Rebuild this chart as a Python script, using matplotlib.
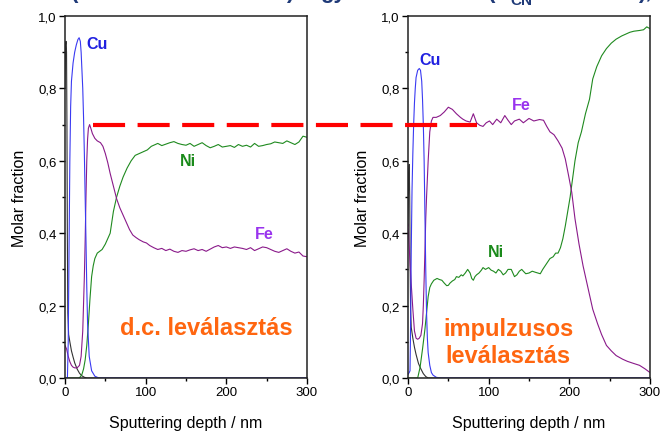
import numpy as np
import matplotlib
matplotlib.use("Agg")
import matplotlib.pyplot as plt
from matplotlib.ticker import MultipleLocator, FuncFormatter
from matplotlib.lines import Line2D

plt.rcParams["font.family"] = ["Liberation Sans", "DejaVu Sans"]

# d.c. deposition (left panel): (depth nm, molar fraction)
dc_black = [(0, 0.80), (0.7, 0.92), (1.3, 0.93), (1.9, 0.90), (2.4, 0.70), (2.9, 0.40),
            (3.5, 0.18), (4.5, 0.12), (6, 0.10), (8, 0.075), (10, 0.058), (12, 0.042),
            (15, 0.025), (18, 0.013), (21, 0.006), (24, 0.002), (27, 0), (300, 0)]
dc_cu = [(0, 0), (3, 0), (4, 0.1), (5, 0.35), (6, 0.6), (7, 0.75), (8, 0.82), (10, 0.87),
         (12, 0.9), (14, 0.92), (16, 0.935), (17.5, 0.94), (19, 0.93), (20, 0.9), (21, 0.85),
         (22, 0.8), (23, 0.72), (24, 0.62), (25, 0.5), (26, 0.38), (27, 0.25), (28, 0.15),
         (30, 0.06), (33, 0.02), (37, 0.005), (42, 0), (300, 0)]
dc_fe = [(0, 0.09), (2, 0.08), (4, 0.06), (6, 0.045), (8, 0.035), (10, 0.03), (12, 0.028),
         (15, 0.028), (18, 0.035), (20, 0.06), (22, 0.13), (24, 0.28), (25, 0.38), (26, 0.5),
         (27, 0.6), (28, 0.66), (29, 0.69), (30.5, 0.70), (32, 0.69), (34, 0.675), (37, 0.662),
         (40, 0.655), (44, 0.65), (47, 0.64), (50, 0.62), (53, 0.595), (56, 0.565), (60, 0.53),
         (64, 0.495), (68, 0.47), (72, 0.45), (76, 0.43), (80, 0.41), (84, 0.395), (88, 0.388),
         (92, 0.382), (97, 0.376), (101, 0.373), (105, 0.366), (110, 0.36), (115, 0.355),
         (120, 0.358), (125, 0.352), (130, 0.356), (135, 0.35), (140, 0.347), (145, 0.352),
         (150, 0.35), (155, 0.354), (160, 0.357), (165, 0.352), (170, 0.355), (175, 0.35),
         (180, 0.356), (185, 0.362), (190, 0.366), (195, 0.36), (200, 0.362), (205, 0.358),
         (210, 0.362), (215, 0.36), (220, 0.358), (225, 0.355), (230, 0.36), (235, 0.352),
         (240, 0.357), (245, 0.362), (250, 0.36), (255, 0.355), (260, 0.35), (265, 0.347),
         (270, 0.352), (275, 0.357), (280, 0.35), (285, 0.345), (290, 0.348), (295, 0.337),
         (300, 0.335)]
dc_ni = [(0, 0), (17, 0), (19, 0.003), (21, 0.01), (23, 0.025), (25, 0.05), (27, 0.09),
         (29, 0.15), (31, 0.22), (33, 0.28), (35, 0.31), (37, 0.33), (40, 0.345), (43, 0.35),
         (46, 0.355), (50, 0.37), (53, 0.385), (56, 0.40), (60, 0.46), (64, 0.5), (68, 0.53),
         (72, 0.555), (77, 0.58), (82, 0.6), (87, 0.615), (92, 0.62), (97, 0.625), (102, 0.63),
         (107, 0.64), (112, 0.645), (115, 0.648), (120, 0.642), (125, 0.646), (130, 0.65),
         (135, 0.653), (140, 0.648), (145, 0.645), (150, 0.643), (155, 0.648), (160, 0.64),
         (165, 0.645), (170, 0.65), (175, 0.642), (180, 0.636), (185, 0.64), (190, 0.645),
         (195, 0.638), (200, 0.64), (205, 0.642), (210, 0.637), (215, 0.645), (220, 0.64),
         (225, 0.643), (230, 0.638), (235, 0.648), (240, 0.64), (245, 0.642), (250, 0.645),
         (255, 0.647), (260, 0.652), (265, 0.65), (270, 0.648), (275, 0.655), (280, 0.65),
         (285, 0.645), (290, 0.652), (295, 0.668), (300, 0.665)]

# pulse deposition (right panel)
imp_black = [(0, 0.42), (0.8, 0.56), (1.5, 0.59), (2.1, 0.5), (2.6, 0.32), (3.2, 0.19),
             (4, 0.14), (6, 0.11), (8, 0.085), (10, 0.065), (13, 0.04), (16, 0.025),
             (19, 0.012), (22, 0.004), (25, 0), (300, 0)]
imp_cu = [(0, 0.01), (1.5, 0.015), (2.5, 0.02), (3, 0.1), (4, 0.35), (5, 0.52), (6, 0.62),
          (7, 0.7), (8, 0.76), (9, 0.8), (10, 0.83), (12, 0.85), (14, 0.855), (15.5, 0.85),
          (17, 0.82), (18, 0.77), (19, 0.7), (20, 0.6), (21, 0.45), (22, 0.3), (23, 0.18),
          (24, 0.11), (25, 0.07), (27, 0.035), (29, 0.015), (31, 0.008), (35, 0.002),
          (40, 0), (300, 0)]
imp_fe = [(0, 0.425), (2, 0.34), (4, 0.26), (6, 0.19), (8, 0.13), (10, 0.11), (12, 0.107),
          (14, 0.11), (16, 0.118), (18, 0.15), (19, 0.2), (20, 0.27), (21, 0.35), (22, 0.44),
          (23, 0.5), (25, 0.6), (27, 0.68), (29, 0.71), (31, 0.72), (35, 0.72), (40, 0.725),
          (45, 0.735), (50, 0.748), (55, 0.742), (60, 0.73), (65, 0.72), (68, 0.715),
          (72, 0.71), (77, 0.707), (81, 0.73), (85, 0.705), (89, 0.698), (93, 0.695),
          (97, 0.705), (101, 0.71), (105, 0.7), (110, 0.715), (115, 0.705), (120, 0.725),
          (124, 0.712), (128, 0.70), (132, 0.71), (138, 0.715), (143, 0.705), (150, 0.717),
          (156, 0.71), (163, 0.714), (168, 0.712), (172, 0.695), (176, 0.68), (181, 0.672),
          (186, 0.655), (191, 0.635), (195, 0.605), (199, 0.56), (203, 0.513), (207, 0.44),
          (212, 0.37), (217, 0.31), (223, 0.25), (229, 0.19), (235, 0.15), (240, 0.12),
          (246, 0.09), (252, 0.075), (258, 0.062), (266, 0.052), (272, 0.046), (280, 0.04),
          (287, 0.035), (294, 0.025), (300, 0.015)]
imp_ni = [(0, 0), (12, 0), (15, 0.03), (18, 0.08), (21, 0.135), (23, 0.18), (25, 0.225),
          (27, 0.25), (29, 0.26), (32, 0.27), (36, 0.275), (39, 0.272), (42, 0.27),
          (45, 0.262), (48, 0.255), (50, 0.256), (52, 0.262), (55, 0.268), (58, 0.272),
          (60, 0.28), (63, 0.278), (66, 0.285), (68, 0.282), (71, 0.29), (74, 0.3),
          (77, 0.29), (79, 0.275), (81, 0.27), (83, 0.28), (85, 0.285), (88, 0.29),
          (91, 0.298), (93, 0.305), (96, 0.3), (100, 0.305), (103, 0.298), (106, 0.295),
          (109, 0.29), (112, 0.3), (115, 0.295), (118, 0.285), (121, 0.29), (124, 0.3),
          (128, 0.3), (132, 0.28), (135, 0.285), (138, 0.295), (141, 0.3), (143, 0.295),
          (146, 0.288), (150, 0.29), (154, 0.295), (158, 0.292), (161, 0.29), (164, 0.288),
          (167, 0.3), (170, 0.31), (173, 0.32), (176, 0.33), (180, 0.335), (183, 0.345),
          (186, 0.345), (189, 0.36), (192, 0.385), (195, 0.42), (198, 0.46), (201, 0.5),
          (204, 0.55), (207, 0.6), (211, 0.65), (215, 0.68), (220, 0.73), (225, 0.77),
          (229, 0.826), (234, 0.86), (240, 0.89), (246, 0.91), (252, 0.925), (258, 0.936),
          (265, 0.945), (270, 0.95), (275, 0.955), (280, 0.958), (287, 0.96), (292, 0.962),
          (296, 0.97), (300, 0.965)]

ref_level = 0.70
ref_from_dc = 35
ref_to_imp = 85

C_BLACK = "#333333"
C_CU = "#3a3af2"
C_FE = "#8a1a8a"
C_NI = "#1f8a1f"
C_ORANGE = "#ff6610"

fig = plt.figure(figsize=(6.6, 4.35), dpi=100)
ax1 = fig.add_axes([65 / 660, 56 / 435, 242 / 660, 362 / 435])
ax2 = fig.add_axes([408 / 660, 56 / 435, 242 / 660, 362 / 435])


def draw_panel(ax, black, cu, fe, ni):
    for data, color in [(black, C_BLACK), (ni, C_NI), (fe, C_FE), (cu, C_CU)]:
        arr = np.array(data)
        ax.plot(arr[:, 0], arr[:, 1], color=color, lw=0.8)
    ax.set_xlim(0, 300)
    ax.set_ylim(0, 1.0)
    ax.xaxis.set_major_locator(MultipleLocator(100))
    ax.xaxis.set_minor_locator(MultipleLocator(50))
    ax.yaxis.set_major_locator(MultipleLocator(0.2))
    ax.yaxis.set_minor_locator(MultipleLocator(0.1))
    ax.yaxis.set_major_formatter(FuncFormatter(lambda v, p: ("%.1f" % v).replace(".", ",")))
    ax.tick_params(which="major", direction="out", length=4, width=1, labelsize=9.5, pad=2)
    ax.tick_params(which="minor", direction="out", length=2.5, width=1)
    for s in ax.spines.values():
        s.set_linewidth(1.1)
        s.set_color("#222222")
    ax.set_xlabel("Sputtering depth / nm", fontsize=11.5, labelpad=12)
    ax.set_ylabel("Molar fraction", fontsize=11.5, labelpad=8)


draw_panel(ax1, dc_black, dc_cu, dc_fe, dc_ni)
draw_panel(ax2, imp_black, imp_cu, imp_fe, imp_ni)

lab = dict(fontsize=11.5, fontweight="bold")
ax1.text(26, 0.925, "Cu", color="#2020e0", ha="left", va="center", **lab)
ax1.text(152, 0.60, "Ni", color="#1a8a1a", ha="center", va="center", **lab)
ax1.text(247, 0.40, "Fe", color="#9933ee", ha="center", va="center", **lab)
ax1.text(175, 0.14, "d.c. leválasztás", color=C_ORANGE, ha="center", va="center",
         fontsize=17, fontweight="bold")

ax2.text(27, 0.88, "Cu", color="#2020e0", ha="center", va="center", **lab)
ax2.text(140, 0.755, "Fe", color="#9933ee", ha="center", va="center", **lab)
ax2.text(109, 0.35, "Ni", color="#1a8a1a", ha="center", va="center", **lab)
ax2.text(124, 0.10, "impulzusos\nleválasztás", color=C_ORANGE, ha="center", va="center",
         fontsize=17, fontweight="bold", linespacing=1.25)

# red dashed reference line spanning both panels
p1 = fig.transFigure.inverted().transform(ax1.transData.transform((ref_from_dc, ref_level)))
p2 = fig.transFigure.inverted().transform(ax2.transData.transform((ref_to_imp, ref_level)))
red = Line2D([p1[0], p2[0]], [p1[1], p2[1]], transform=fig.transFigure, color="#ff0000",
             lw=3, solid_capstyle="butt", dash_capstyle="butt")
red.set_dashes((7.7, 3.0))
fig.add_artist(red)

# clipped title remnants at the very top
tkw = dict(color="#1f3a78", fontsize=16, fontweight="bold", va="baseline")
fig.text(75 / 660, 1.004, "(", ha="center", **tkw)
fig.text(290 / 660, 1.004, ")", ha="center", **tkw)
fig.text(333 / 660, 1.004, "gy", ha="center", **tkw)
fig.text(492 / 660, 1.004, "(", ha="center", **tkw)
fig.text(521 / 660, 0.988, "CN", ha="center", color="#1f3a78", fontsize=11,
         fontweight="bold", va="baseline")
fig.text(645 / 660, 1.004, "),", ha="center", **tkw)

fig.savefig("out.png", dpi=100)
